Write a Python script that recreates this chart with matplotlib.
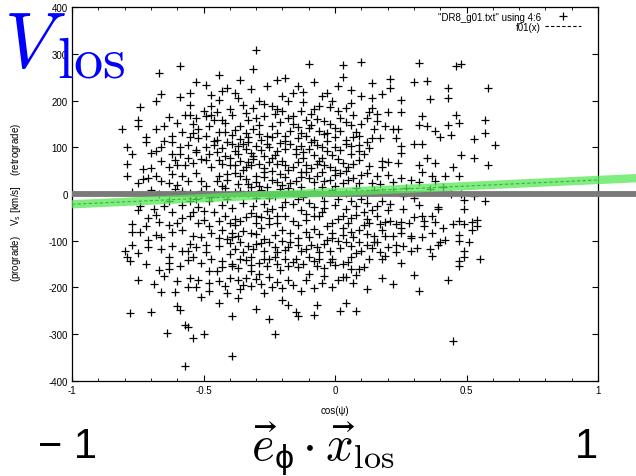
import numpy as np
import matplotlib
matplotlib.use('Agg')
import matplotlib.pyplot as plt

plt.rcParams['font.family'] = ['Liberation Sans', 'DejaVu Sans']
plt.rcParams['mathtext.default'] = 'regular'

# DR8_g01.txt, columns 4:6  (cos(psi), V_s)
pts = [
    # left upper block
    (-0.59,274),(-0.67,258),(-0.44,255),(-0.49,234),(-0.55,217),(-0.43,220),(-0.66,214),(-0.59,207),
    (-0.68,199),(-0.44,201),(-0.74,187),(-0.55,191),(-0.47,189),(-0.50,178),(-0.45,176),(-0.39,169),
    (-0.63,164),(-0.57,169),(-0.55,169),(-0.53,163),(-0.49,166),(-0.46,159),(-0.43,159),(-0.75,159),
    (-0.75,145),(-0.81,140),(-0.68,140),(-0.65,145),(-0.54,150),(-0.48,145),(-0.42,132),(-0.54,130),
    (-0.55,121),(-0.52,120),(-0.49,125),(-0.62,125),(-0.72,123),(-0.65,114),(-0.72,111),(-0.45,116),
    (-0.41,111),(-0.39,107),(-0.79,100),(-0.66,100),(-0.59,100),(-0.49,100),(-0.77,86),(-0.70,88),
    (-0.62,86),(-0.59,86),(-0.53,90),(-0.51,75),(-0.56,76),(-0.45,89),(-0.42,81),(-0.48,86),
    (-0.79,64),(-0.73,53),(-0.70,55),(-0.63,57),(-0.60,61),(-0.57,61),(-0.47,57),(-0.43,64),
    (-0.40,62),(-0.79,38),(-0.75,24),(-0.73,32),(-0.71,34),(-0.68,38),(-0.63,24),(-0.60,19),
    (-0.58,39),(-0.56,28),(-0.51,28),(-0.49,18),(-0.44,38),(-0.41,43),(-0.43,18),(-0.67,0),
    (-0.58,7),(-0.51,7),(-0.46,4),(-0.63,-14),(-0.55,-14),(-0.53,-11),(-0.48,-16),(-0.41,-11),
    (-0.74,-25),(-0.65,-25),
    # middle upper block
    (-0.30,308),(-0.31,267),(-0.10,278),(0.03,277),(0.10,282),(0.03,251),(-0.36,244),(-0.19,248),
    (-0.14,230),(-0.32,225),(-0.16,215),(-0.20,209),(-0.37,205),(-0.29,200),(-0.05,210),(-0.03,215),
    (-0.01,200),(0.10,209),(-0.06,189),(-0.31,185),(-0.22,182),(-0.20,178),(-0.13,178),(-0.08,182),
    (0.04,185),(0.01,178),(-0.34,173),(-0.23,171),(-0.16,167),(0.07,169),(-0.30,163),(-0.18,163),
    (-0.11,158),(-0.04,157),(0.02,163),(-0.36,145),(-0.24,146),(-0.16,150),(-0.09,148),(-0.02,150),
    (0.06,148),(0.10,150),(-0.31,138),(-0.29,128),(-0.26,125),(-0.22,130),(-0.19,125),(-0.13,130),
    (-0.11,125),(-0.06,135),(-0.04,128),(0.02,135),(0.00,121),(0.07,121),(0.09,125),(-0.36,118),
    (-0.33,111),(-0.19,114),(-0.08,116),(-0.03,114),(-0.37,102),(-0.34,96),(-0.30,103),(-0.25,100),
    (-0.19,96),(-0.13,103),(-0.10,96),(-0.05,100),(0.00,100),(0.06,102),(0.09,105),(-0.37,86),
    (-0.31,82),(-0.27,82),(-0.23,83),(-0.15,86),(-0.08,83),(-0.05,78),(-0.01,83),(0.06,86),
    (0.11,86),(-0.33,68),(-0.29,64),(-0.25,69),(-0.22,64),(-0.14,69),(-0.11,62),(-0.07,64),
    (-0.04,62),(0.03,66),(0.07,64),(-0.38,61),(-0.35,52),(-0.32,61),(-0.24,50),(-0.18,52),
    (-0.13,48),(-0.05,46),(0.00,52),(0.04,50),(0.10,41),(-0.36,38),(-0.30,39),(-0.27,36),
    (-0.22,25),(-0.19,36),(-0.15,28),(-0.10,34),(-0.08,25),(-0.02,31),(0.03,24),(0.07,34),
    (-0.37,21),(-0.32,14),(-0.29,18),(-0.26,14),(-0.18,12),(-0.13,14),(-0.05,14),(0.00,18),
    (-0.36,7),(-0.30,-9),(-0.23,-4),(-0.19,-18),(-0.14,-11),(-0.10,-19),(-0.04,-16),(0.01,-11),
    (0.06,-16),(0.10,-11),
    # right upper block
    (0.32,280),(0.46,274),(0.48,279),(0.14,237),(0.21,247),(0.21,226),(0.30,240),(0.35,242),
    (0.43,226),(0.58,226),(0.25,202),(0.36,203),(0.43,205),(0.14,185),(0.20,176),(0.25,175),
    (0.33,166),(0.46,170),(0.16,157),(0.32,148),(0.35,146),(0.43,148),(0.47,151),(0.57,158),
    (0.15,138),(0.19,145),(0.22,140),(0.24,138),(0.38,135),(0.14,120),(0.17,120),(0.23,120),
    (0.40,123),(0.44,127),(0.57,130),(0.53,118),(0.25,103),(0.30,108),(0.33,107),(0.61,105),
    (0.25,88),(0.48,83),(0.53,76),(0.18,71),(0.20,69),(0.35,76),(0.38,66),(0.24,66),
    (0.32,61),(0.58,61),(0.18,57),(0.45,57),(0.33,48),(0.16,39),(0.20,41),(0.25,34),
    (0.29,31),(0.37,39),(0.42,38),(0.47,38),(0.14,24),(0.22,25),(0.32,26),(0.38,28),
    (0.17,21),(0.18,5),(0.36,11),(0.41,14),(0.44,0),(0.48,0),(0.26,-5),(0.53,-4),
    (0.49,-12),(0.57,-16),(0.18,-14),(0.32,-23),(0.39,-28),(0.16,-25),
    # left lower block
    (-0.75,-34),(-0.68,-45),(-0.62,-38),(-0.58,-52),(-0.54,-38),(-0.50,-36),(-0.46,-39),(-0.67,-59),
    (-0.77,-64),(-0.63,-66),(-0.60,-61),(-0.52,-61),(-0.48,-68),(-0.44,-57),(-0.40,-61),(-0.77,-82),
    (-0.74,-81),(-0.72,-68),(-0.62,-81),(-0.71,-98),(-0.66,-93),(-0.54,-89),(-0.44,-95),(-0.41,-96),
    (-0.39,-83),(-0.77,-109),(-0.80,-121),(-0.75,-126),(-0.62,-112),(-0.58,-121),(-0.56,-121),(-0.53,-114),
    (-0.49,-109),(-0.49,-125),(-0.40,-128),(-0.79,-135),(-0.78,-144),(-0.63,-134),(-0.56,-141),(-0.54,-135),
    (-0.47,-139),(-0.63,-148),(-0.67,-163),(-0.63,-160),(-0.65,-175),(-0.48,-164),(-0.45,-164),(-0.43,-157),
    (-0.39,-155),(-0.75,-185),(-0.55,-180),(-0.52,-183),(-0.48,-190),(-0.40,-180),(-0.66,-209),(-0.61,-210),
    (-0.56,-200),(-0.48,-207),(-0.41,-212),(-0.51,-221),(-0.44,-233),(-0.60,-239),(-0.59,-248),(-0.78,-255),
    (-0.70,-253),(-0.39,-262),(-0.57,-280),(-0.56,-285),(-0.64,-298),(-0.54,-309),(-0.50,-299),(-0.39,-346),
    (-0.57,-369),
    # middle lower block
    (-0.38,-53),(-0.36,-57),(-0.32,-41),(-0.30,-46),(-0.28,-50),(-0.26,-36),(-0.22,-48),(-0.22,-61),
    (-0.16,-57),(-0.11,-43),(-0.08,-46),(-0.05,-39),(-0.01,-61),(0.03,-46),(0.06,-52),(0.11,-38),
    (-0.32,-83),(-0.28,-73),(-0.25,-64),(-0.20,-78),(-0.11,-82),(-0.08,-75),(-0.01,-83),(0.03,-73),
    (0.06,-81),(0.09,-78),(0.11,-66),(-0.37,-90),(-0.36,-103),(-0.30,-107),(-0.25,-103),(-0.20,-100),
    (-0.17,-103),(-0.14,-109),(-0.09,-110),(-0.04,-107),(-0.01,-95),(0.01,-100),(0.04,-103),(0.09,-102),
    (0.12,-110),(-0.38,-118),(-0.35,-125),(-0.31,-118),(-0.27,-121),(-0.22,-125),(-0.18,-114),(-0.13,-121),
    (-0.06,-125),(0.10,-121),(-0.36,-138),(-0.32,-135),(-0.27,-139),(-0.23,-135),(-0.19,-138),(-0.15,-139),
    (-0.10,-135),(-0.06,-139),(-0.01,-138),(0.06,-135),(-0.32,-152),(-0.26,-155),(-0.22,-150),(-0.18,-153),
    (-0.14,-157),(-0.07,-153),(-0.02,-146),(0.03,-150),(-0.37,-159),(-0.32,-164),(0.06,-160),(0.09,-160),
    (0.11,-157),(-0.29,-171),(-0.10,-171),(-0.04,-175),(0.04,-178),(0.08,-173),(-0.37,-185),(-0.34,-180),
    (-0.30,-182),(-0.25,-178),(-0.22,-189),(-0.11,-183),(0.01,-183),(0.03,-178),(-0.35,-195),(-0.32,-196),
    (-0.20,-202),(-0.16,-195),(-0.08,-202),(-0.37,-223),(-0.27,-212),(-0.20,-226),(-0.18,-237),(-0.07,-237),
    (0.04,-233),(-0.30,-246),(-0.15,-253),(-0.14,-262),(-0.08,-259),(0.02,-250),(0.08,-251),(-0.25,-267),
    (-0.23,-299),
    # right lower block
    (0.14,-34),(0.20,-34),(0.33,-46),(0.37,-48),(0.39,-32),(0.49,-32),(0.13,-61),(0.17,-64),
    (0.19,-59),(0.21,-57),(0.23,-64),(0.25,-59),(0.34,-57),(0.34,-68),(0.38,-59),(0.41,-73),
    (0.45,-64),(0.47,-57),(0.49,-64),(0.52,-59),(0.54,-55),(0.54,-69),(0.52,-78),(0.25,-73),
    (0.25,-83),(0.15,-89),(0.19,-89),(0.22,-90),(0.29,-89),(0.29,-95),(0.37,-83),(0.47,-88),
    (0.15,-103),(0.16,-103),(0.23,-109),(0.40,-102),(0.42,-98),(0.47,-101),(0.51,-103),(0.39,-110),
    (0.20,-114),(0.14,-116),(0.29,-121),(0.31,-116),(0.17,-125),(0.23,-125),(0.49,-121),(0.19,-133),
    (0.37,-132),(0.49,-135),(0.55,-139),(0.18,-140),(0.47,-143),(0.47,-155),(0.18,-180),(0.30,-173),
    (0.43,-185),(0.32,-208),(0.45,-314),
    # dense core (overlapping markers, estimated)
    (-0.27,192),(-0.12,196),(-0.24,188),(0.06,194),(-0.40,181),(-0.09,171),(0.13,176),(-0.35,190),
    (-0.02,186),(-0.18,199),(-0.42,152),(-0.33,158),(-0.27,166),(-0.21,155),(-0.14,143),(-0.07,161),
    (0.00,142),(0.04,155),(0.12,162),(-0.38,137),(-0.29,147),(-0.10,141),(-0.47,168),(-0.60,151),
    (-0.52,140),(0.16,172),(-0.44,133),(-0.39,126),(-0.34,131),(-0.28,116),(-0.24,122),(-0.17,134),
    (-0.14,119),(-0.09,112),(-0.03,131),(0.04,116),(0.08,133),(0.12,112),(-0.58,133),(-0.46,113),
    (-0.62,112),(-0.33,122),(-0.21,110),(-0.43,98),(-0.38,93),(-0.35,106),(-0.32,88),(-0.28,95),
    (-0.22,92),(-0.17,107),(-0.12,90),(-0.07,104),(-0.03,92),(0.02,95),(0.04,108),(0.09,91),
    (0.13,98),(-0.56,104),(-0.53,95),(-0.46,105),(-0.68,93),(-0.26,108),(-0.15,97),(-0.44,72),
    (-0.40,76),(-0.36,70),(-0.31,75),(-0.27,56),(-0.24,78),(-0.20,71),(-0.16,58),(-0.12,77),
    (-0.09,55),(-0.06,71),(-0.02,58),(0.01,74),(0.05,57),(0.09,72),(0.13,60),(-0.54,66),
    (-0.49,72),(-0.61,72),(-0.66,70),(-0.34,58),(-0.19,61),(-0.45,28),(-0.41,31),(-0.38,45),
    (-0.34,33),(-0.30,26),(-0.27,47),(-0.24,31),(-0.21,43),(-0.17,24),(-0.13,36),(-0.11,46),
    (-0.07,38),(-0.04,27),(0.00,40),(0.05,29),(0.09,24),(0.12,45),(-0.53,45),(-0.62,43),
    (-0.66,28),(-0.33,22),(-0.20,20),(0.02,44),(-0.42,12),(-0.38,5),(-0.33,2),(-0.28,8),
    (-0.25,-8),(-0.21,10),(-0.16,4),(-0.12,-6),(-0.08,6),(-0.05,-3),(-0.01,8),(0.04,3),
    (0.08,12),(0.12,-2),(-0.47,-6),(-0.55,2),(-0.61,10),(-0.70,8),(-0.77,5),(0.15,9),
    (0.22,6),(0.27,13),(0.30,-8),(-0.43,-24),(-0.39,-30),(-0.35,-19),(-0.31,-26),(-0.27,-22),
    (-0.24,-33),(-0.20,-27),(-0.16,-22),(-0.13,-35),(-0.08,-27),(-0.04,-31),(0.00,-24),(0.04,-32),
    (0.08,-26),(0.12,-20),(-0.52,-27),(-0.58,-24),(-0.69,-32),(0.21,-22),(0.26,-33),(-0.42,-48),
    (-0.38,-66),(-0.34,-50),(-0.30,-62),(-0.25,-51),(-0.19,-47),(-0.14,-66),(-0.11,-55),(-0.06,-48),
    (-0.03,-68),(0.01,-54),(0.05,-63),(0.08,-45),(0.12,-54),(-0.55,-47),(-0.50,-56),(-0.71,-52),
    (0.16,-48),(0.28,-62),(0.30,-50),(-0.43,-78),(-0.39,-92),(-0.35,-80),(-0.30,-86),(-0.27,-96),
    (-0.23,-88),(-0.17,-84),(-0.14,-95),(-0.10,-91),(-0.06,-86),(-0.03,-98),(0.03,-88),(0.07,-93),
    (0.12,-86),(-0.58,-78),(-0.51,-92),(-0.47,-84),(-0.68,-88),(0.18,-78),(0.33,-92),(-0.44,-112),
    (-0.40,-105),(-0.33,-111),(-0.28,-104),(-0.23,-113),(-0.19,-120),(-0.11,-117),(-0.07,-113),(-0.02,-122),
    (0.02,-115),(0.06,-112),(0.08,-126),(-0.55,-106),(-0.66,-118),(-0.71,-113),(0.26,-111),(0.36,-118),
    (-0.43,-143),(-0.39,-149),(-0.34,-142),(-0.29,-147),(-0.25,-138),(-0.21,-162),(-0.16,-146),(-0.12,-150),
    (-0.08,-143),(-0.04,-158),(0.00,-152),(0.05,-145),(-0.51,-148),(-0.59,-155),(-0.72,-150),(0.13,-138),
    (0.25,-148),(-0.42,-196),(-0.36,-203),(-0.28,-192),(-0.24,-199),(-0.18,-183),(-0.13,-207),(-0.05,-190),
    (-0.01,-198),(0.07,-190),(-0.53,-198),(-0.44,-186),(-0.60,-187),(-0.69,-192),(0.12,-204),(0.22,-193),
    (-0.47,212),(-0.41,226),(-0.26,232),(-0.12,218),(-0.08,240),(0.06,222),(0.14,205),(-0.53,240),
    (-0.22,243),(0.01,231),(0.18,214),(-0.38,215),
]
cos_psi = np.array([p[0] for p in pts])
v_s = np.array([p[1] for p in pts])

# f01(x) = a*x + b
fit_a = 26.0
fit_b = 4.0

fig = plt.figure(figsize=(6.36, 4.77), dpi=100)
ax = fig.add_axes([0.1132, 0.1992, 0.8271, 0.784])

ax.plot(cos_psi, v_s, '+', color='black', ms=6, mew=0.9, zorder=2,
        label='"DR8_g01.txt" using 4:6')
xf = np.array([-1.0, 1.0])
ax.plot(xf, fit_a*xf + fit_b, '--', color='black', lw=0.8, dashes=(3, 2), zorder=3,
        label='f01(x)')

# overlays reaching past the frame
xo = np.array([-1.0, 1.145])
ax.plot(xo, [0, 0], color='#7a7a7a', lw=4.2, solid_capstyle='butt', clip_on=False, zorder=4)
ax.plot(xo, fit_a*xo + fit_b, color='#55e855', lw=6, alpha=0.75,
        solid_capstyle='butt', clip_on=False, zorder=5)

ax.set_xlim(-1, 1)
ax.set_ylim(-400, 400)
ax.set_xticks([-1, -0.5, 0, 0.5, 1])
ax.set_xticklabels(['-1', '-0.5', '0', '0.5', '1'])
ax.set_xticks(np.arange(-1, 1.01, 0.1), minor=True)
ax.set_yticks(np.arange(-400, 401, 100))
ax.set_yticklabels([str(v) for v in range(-400, 401, 100)])
ax.tick_params(which='both', direction='in', top=True, right=True, labelsize=7, pad=3)
ax.tick_params(which='major', length=4, width=0.8)
ax.tick_params(which='minor', length=2, width=0.6)
for s in ax.spines.values():
    s.set_linewidth(0.9)

ax.set_xlabel('cos(ψ)', fontsize=7, labelpad=7)
ax.set_ylabel('(prograde)    V$_s$ [km/s]    (retrograde)', fontsize=7)
ax.yaxis.set_label_coords(-0.093, 0.48)

leg = ax.legend(loc='upper right', frameon=False, fontsize=7, markerfirst=False,
                handlelength=3.7, borderaxespad=0.0, labelspacing=0.0, handletextpad=0.4,
                bbox_to_anchor=(0.975, 0.998))
leg._legend_box.align = 'right'

# V_los title split so that "los" can be sized like the reference
fig.text(0.006, 0.978, r'$\mathit{V}$', fontsize=56, color='#0000ff',
         va='top', ha='left', math_fontfamily='cm')
fig.text(0.089, 1 - 78/477, r'$\mathrm{los}$', fontsize=42, color='#0000ff',
         va='baseline', ha='left', math_fontfamily='cm')

fig.text(0.06, 0.062, '\u2212 1', fontsize=30, ha='left', va='center')
fig.text(0.94, 0.062, '1', fontsize=30, ha='right', va='center')
fig.text(0.507, 0.058, r'$\vec{\mathit{e}}_\phi\cdot\vec{\mathit{x}}_{\mathrm{los}}$',
         fontsize=35, ha='center', va='center', math_fontfamily='cm')

fig.savefig('out.png', dpi=100)
